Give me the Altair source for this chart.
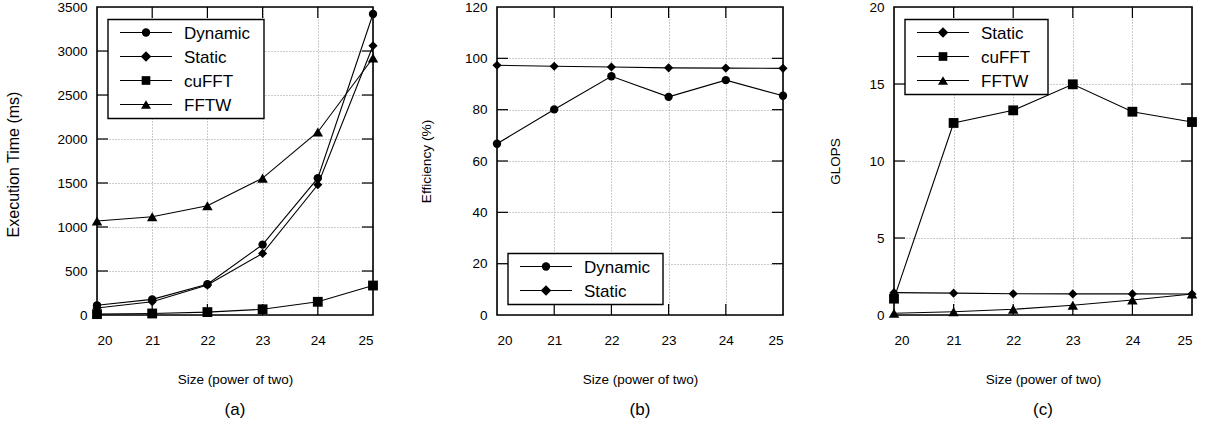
import altair as alt
import pandas as pd

# Problem sizes (log2 of the transform length)
sizes = [20, 21, 22, 23, 24, 25]

# (a) execution time in ms
time_dynamic = [110, 178, 350, 800, 1555, 3420]
time_static = [80, 150, 340, 700, 1480, 3060]
time_cufft = [10, 17, 33, 65, 150, 335]
time_fftw = [1068, 1117, 1242, 1555, 2080, 2920]

# (b) efficiency in percent
eff_dynamic = [66.7, 80.1, 93.0, 85.0, 91.5, 85.4]
eff_static = [97.3, 96.9, 96.6, 96.3, 96.2, 96.1]

# (c) GLOPS
glops_static = [1.45, 1.42, 1.38, 1.37, 1.37, 1.36]
glops_cufft = [1.06, 12.47, 13.29, 14.98, 13.2, 12.53]
glops_fftw = [0.11, 0.21, 0.37, 0.63, 0.97, 1.36]

# axis tick values
x_ticks = [20, 21, 22, 23, 24, 25]
time_ticks = [0, 500, 1000, 1500, 2000, 2500, 3000, 3500]
eff_ticks = [0, 20, 40, 60, 80, 100, 120]
glops_ticks = [0, 5, 10, 15, 20]

FONT = "Liberation Sans"
H = 308
TICK = 11
MARKERS = {
    "Dynamic": ("circle", 70),
    "Static": ("diamond", 110),
    "cuFFT": ("square", 75),
    "FFTW": ("triangle-up", 100),
}


def one_row(**kw):
    return pd.DataFrame({k: [v] for k, v in kw.items()} or {"k": [0]})


def panel(series, yticks, ytitle, ytitle_size, ytitle_shift, width, title_x,
          legend_top, legend_w, caption):
    names = [n for n, _ in series]
    rows = []
    for name, vals in series:
        for s, v in zip(sizes, vals):
            rows.append({"size": s, "value": v, "series": name})
    df = pd.DataFrame(rows)

    xs = alt.Scale(domain=[x_ticks[0], x_ticks[-1]], nice=False, zero=False)
    ys = alt.Scale(domain=[yticks[0], yticks[-1]], nice=False, zero=True)

    x_axis = alt.Axis(
        values=x_ticks, title="Size (power of two)", format="d",
        grid=True, gridColor="#999999", gridDash=[1, 2], gridWidth=1,
        ticks=False, tickSize=0, domain=False,
        labelFont=FONT, labelFontSize=13.5, labelColor="black", labelPadding=18,
        titleFont=FONT, titleFontSize=13.5, titleFontWeight="normal", titleColor="black",
        titleY=64, titleBaseline="middle",
    )
    y_axis = alt.Axis(
        values=yticks, title=ytitle, format="d",
        grid=True, gridColor="#999999", gridDash=[1, 2], gridWidth=1,
        ticks=False, tickSize=0, domain=False,
        labelFont=FONT, labelFontSize=13.5, labelColor="black", labelPadding=10,
        titleFont=FONT, titleFontSize=ytitle_size, titleFontWeight="normal",
        titleColor="black",
        titleX=-title_x, titleY=H / 2 + ytitle_shift, titleBaseline="middle",
    )

    def X(field):
        return alt.X(field, scale=xs, axis=x_axis)

    def Y(field):
        return alt.Y(field, scale=ys, axis=y_axis)

    lines = alt.Chart(df).mark_line(color="black", strokeWidth=1.1).encode(
        x=X("size:Q"), y=Y("value:Q"), detail="series:N"
    )
    points = alt.Chart(df).mark_point(filled=True, color="black", opacity=1).encode(
        x=X("size:Q"), y=Y("value:Q"),
        shape=alt.Shape("series:N", legend=None,
                        scale=alt.Scale(domain=names, range=[MARKERS[n][0] for n in names])),
        size=alt.Size("series:N", legend=None,
                      scale=alt.Scale(domain=names, range=[MARKERS[n][1] for n in names])),
    )

    # inward tick marks on all four sides
    yt = pd.DataFrame({"value": yticks[1:-1]})
    xt = pd.DataFrame({"size": x_ticks[1:-1]})
    tick_l = alt.Chart(yt).mark_rule(color="black", strokeWidth=1.2).encode(
        y=Y("value:Q"), x=alt.value(0), x2=alt.value(TICK))
    tick_r = alt.Chart(yt).mark_rule(color="black", strokeWidth=1.2).encode(
        y=Y("value:Q"), x=alt.value(width - TICK), x2=alt.value(width))
    tick_b = alt.Chart(xt).mark_rule(color="black", strokeWidth=1.2).encode(
        x=X("size:Q"), y=alt.value(H - TICK), y2=alt.value(H))
    tick_t = alt.Chart(xt).mark_rule(color="black", strokeWidth=1.2).encode(
        x=X("size:Q"), y=alt.value(0), y2=alt.value(TICK))

    frame = alt.Chart(one_row()).mark_rect(
        fill=None, stroke="black", strokeWidth=1.6
    ).encode(x=alt.value(0), x2=alt.value(width), y=alt.value(0), y2=alt.value(H))

    # legend box with a line-and-marker sample per series
    lx0 = 11
    row_h = 24
    box = alt.Chart(one_row()).mark_rect(
        fill="white", stroke="black", strokeWidth=1.4
    ).encode(
        x=alt.value(lx0), x2=alt.value(lx0 + legend_w),
        y=alt.value(legend_top), y2=alt.value(legend_top + row_h * len(names) + 3),
    )
    legend_layers = [box]
    for i, name in enumerate(names):
        cy = legend_top + 13 + i * row_h
        d = one_row(label=name)
        legend_layers.append(
            alt.Chart(d).mark_rule(color="black", strokeWidth=1.1).encode(
                x=alt.value(lx0 + 12), x2=alt.value(lx0 + 64), y=alt.value(cy))
        )
        legend_layers.append(
            alt.Chart(d).mark_point(
                filled=True, color="black", opacity=1,
                shape=MARKERS[name][0], size=MARKERS[name][1],
            ).encode(x=alt.value(lx0 + 38), y=alt.value(cy))
        )
        legend_layers.append(
            alt.Chart(d).mark_text(
                align="left", baseline="middle", font=FONT, fontSize=17, color="black"
            ).encode(x=alt.value(lx0 + 76), y=alt.value(cy + 1), text="label:N")
        )

    cap = alt.Chart(one_row(label=caption)).mark_text(
        align="center", baseline="middle", font=FONT, fontSize=17, color="black"
    ).encode(x=alt.value(width / 2), y=alt.value(403), text="label:N")

    return alt.layer(
        lines, points, tick_l, tick_r, tick_b, tick_t, frame, *legend_layers, cap
    ).properties(width=width, height=H)


pa = panel(
    [("Dynamic", time_dynamic), ("Static", time_static),
     ("cuFFT", time_cufft), ("FFTW", time_fftw)],
    time_ticks, "Execution Time (ms)", 16, 3, 276, 84, 12.5, 156, "(a)",
)
pb = panel(
    [("Dynamic", eff_dynamic), ("Static", eff_static)],
    eff_ticks, "Efficiency (%)", 13.7, 0, 286, 71, 246.5, 155, "(b)",
)
pc = panel(
    [("Static", glops_static), ("cuFFT", glops_cufft), ("FFTW", glops_fftw)],
    glops_ticks, "GLOPS", 13.5, 0, 298, 59, 12.5, 143, "(c)",
)

chart = (
    alt.hconcat(pa, pb, pc, spacing=40)
    .properties(padding={"left": 5, "top": 0, "right": 5, "bottom": 0}, background="white")
    .configure_view(stroke=None)
)

chart.save("out.html", embed_options={"renderer": "svg", "actions": False})
